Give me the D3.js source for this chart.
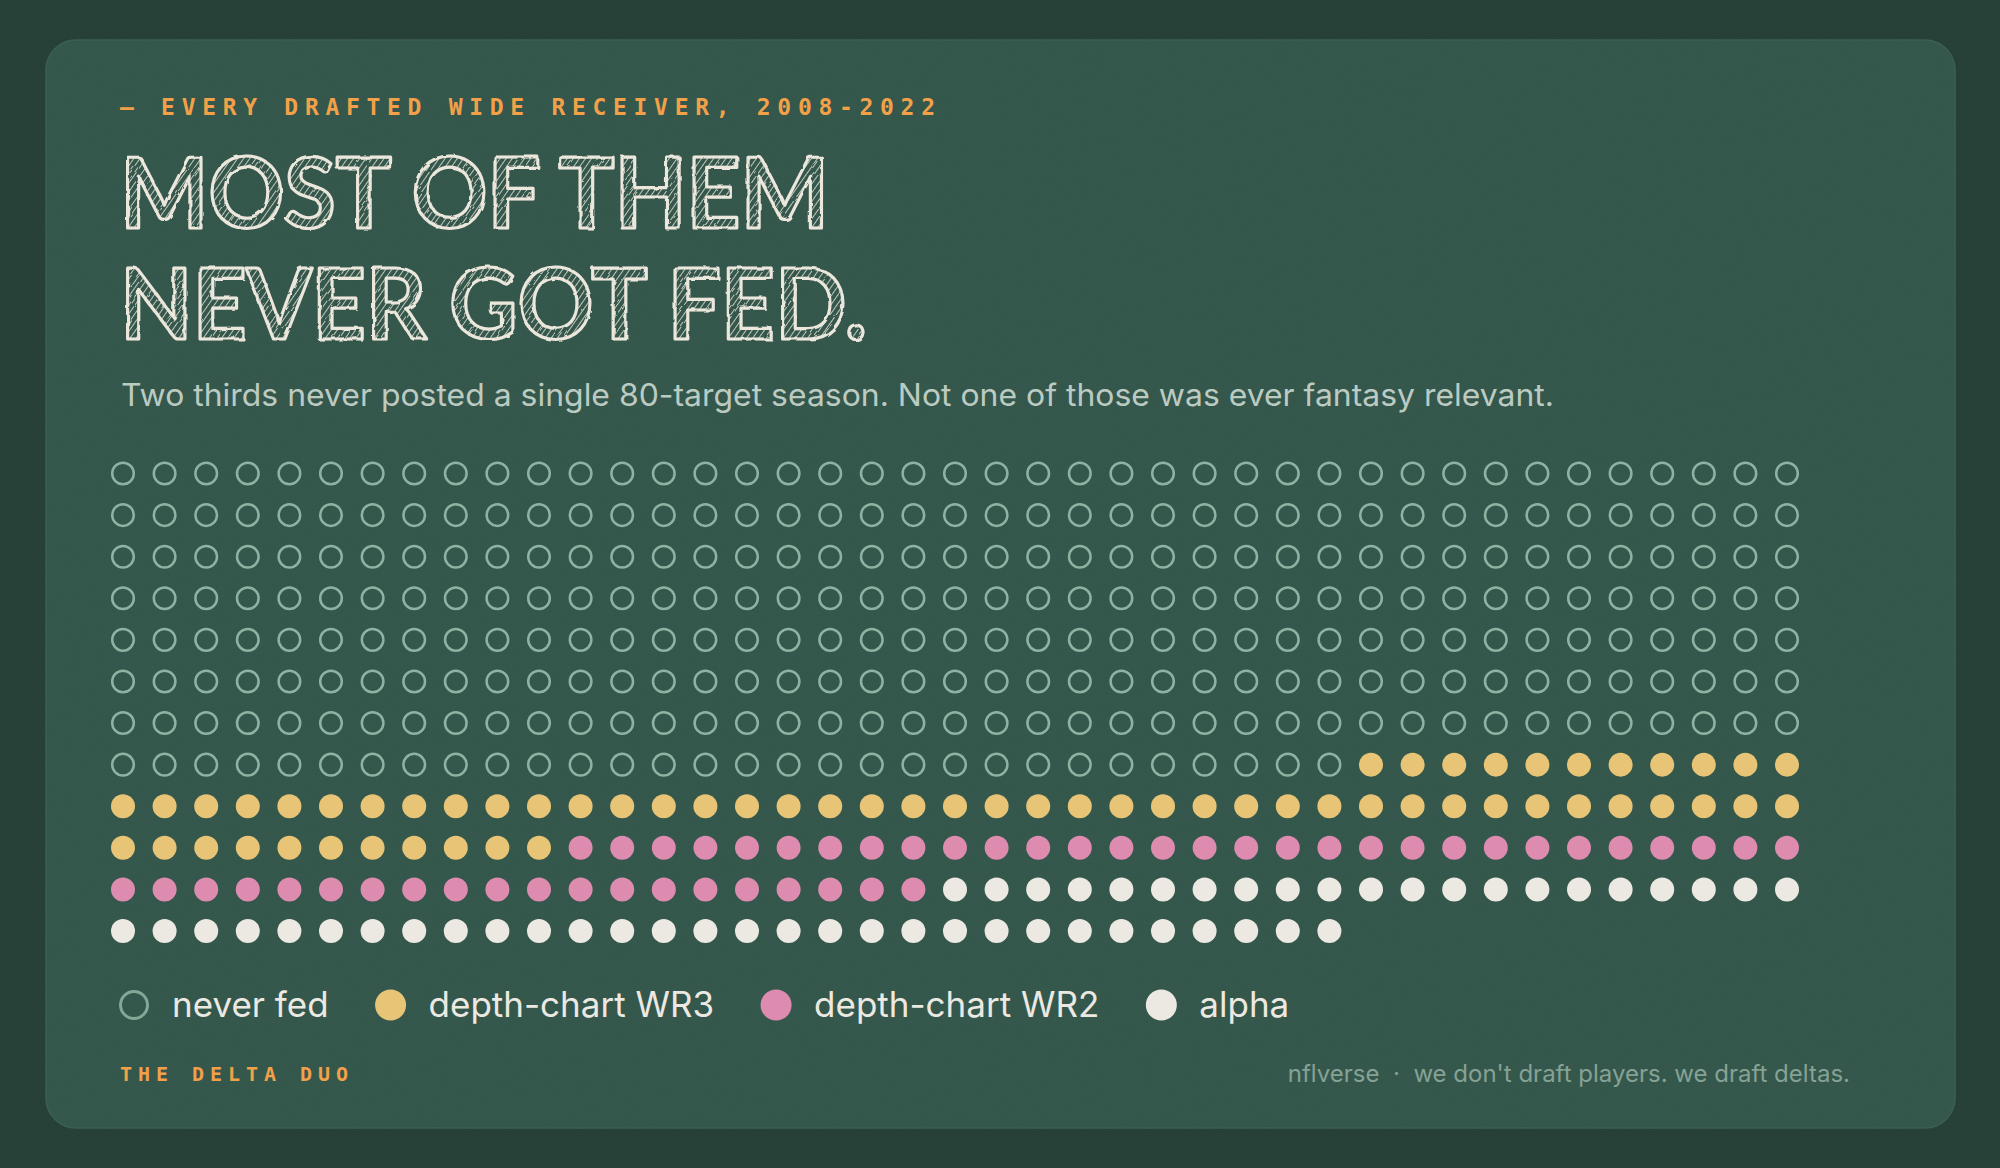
<!DOCTYPE html>
<html>
<head>
<meta charset="utf-8">
<script src="https://cdn.jsdelivr.net/npm/d3@7"></script>
<style>
  html, body { margin: 0; padding: 0; background: #243e36; }
  svg { display: block; }
</style>
</head>
<body>
<div id="chart"></div>
<script>
// data
const categories = ["never fed", "depth-chart WR3", "depth-chart WR2", "alpha"];
const counts = [317, 63, 50, 51];
const colors = ["#8db3a2", "#e8c576", "#de8bb0", "#ece9e2"];
const hollow = [true, false, false, false];
const eyebrow = "— EVERY DRAFTED WIDE RECEIVER, 2008-2022";
const titleLines = ["MOST OF THEM", "NEVER GOT FED."];
const subtitle = "Two thirds never posted a single 80-target season. Not one of those was ever fantasy relevant.";
const brand = "THE DELTA DUO";
const credit = "nflverse  ·  we don't draft players. we draft deltas.";
const perRow = 41;

const W = 2000, H = 1168;
const svg = d3.select("#chart").append("svg")
    .attr("width", W)
    .attr("height", H);

const defs = svg.append("defs");

// chalk hatching for the headline
defs.append("pattern")
    .attr("id", "hatch")
    .attr("patternUnits", "userSpaceOnUse")
    .attr("width", 5)
    .attr("height", 5)
    .attr("patternTransform", "rotate(35)")
  .append("line")
    .attr("x1", 0).attr("y1", 0)
    .attr("x2", 0).attr("y2", 5)
    .attr("stroke", "#e9e4d8")
    .attr("stroke-width", 2)
    .attr("stroke-opacity", 0.8);

const rough = defs.append("filter").attr("id", "rough");
rough.append("feTurbulence")
    .attr("type", "fractalNoise")
    .attr("baseFrequency", 0.08)
    .attr("numOctaves", 2)
    .attr("seed", 3)
    .attr("result", "n");
rough.append("feDisplacementMap")
    .attr("in", "SourceGraphic")
    .attr("in2", "n")
    .attr("scale", 3);

// faint grain on the card
const grain = defs.append("filter").attr("id", "grain");
grain.append("feTurbulence")
    .attr("type", "fractalNoise")
    .attr("baseFrequency", 0.9)
    .attr("numOctaves", 2)
    .attr("seed", 7);
grain.append("feColorMatrix")
    .attr("type", "matrix")
    .attr("values", "0 0 0 0 1  0 0 0 0 1  0 0 0 0 1  0 0 0 0.025 0");

svg.append("rect")
    .attr("width", W).attr("height", H)
    .attr("fill", "#243e36");

const card = { x: 46, y: 40, w: 1909, h: 1088 };
svg.append("rect")
    .attr("x", card.x).attr("y", card.y)
    .attr("width", card.w).attr("height", card.h)
    .attr("rx", 30)
    .attr("fill", "#32554a")
    .attr("stroke", "#3a5d50")
    .attr("stroke-width", 1.5);
svg.append("rect")
    .attr("x", card.x).attr("y", card.y)
    .attr("width", card.w).attr("height", card.h)
    .attr("rx", 30)
    .attr("filter", "url(#grain)");

// eyebrow
svg.append("text")
    .attr("x", 120).attr("y", 115)
    .attr("font-family", "'DejaVu Sans Mono', monospace")
    .attr("font-weight", "bold")
    .attr("font-size", 23)
    .attr("fill", "#f2a148")
    .attr("textLength", 815)
    .attr("lengthAdjust", "spacing")
    .text(eyebrow);

// headline
const titleG = svg.append("g").attr("filter", "url(#rough)");
const titleWidths = [709, 747];
titleG.selectAll("text")
  .data(titleLines)
  .join("text")
    .attr("x", 120)
    .attr("y", (d, i) => 228 + i * 111)
    .attr("font-family", "Lato, 'DejaVu Sans', sans-serif")
    .attr("font-weight", 700)
    .attr("font-size", 97)
    .attr("fill", "url(#hatch)")
    .attr("stroke", "#ece7dc")
    .attr("stroke-width", 3.2)
    .attr("stroke-linejoin", "round")
    .attr("textLength", (d, i) => titleWidths[i])
    .attr("lengthAdjust", "spacingAndGlyphs")
    .text(d => d);

// subtitle
svg.append("text")
    .attr("x", 121).attr("y", 406)
    .attr("font-family", "Inter, sans-serif")
    .attr("font-size", 31)
    .attr("fill", "#bccbc2")
    .attr("textLength", 1433)
    .attr("lengthAdjust", "spacingAndGlyphs")
    .text(subtitle);

// waffle
const dots = [];
categories.forEach((c, ci) => {
  for (let k = 0; k < counts[ci]; k++) dots.push({ cat: ci });
});
dots.forEach((d, i) => { d.col = i % perRow; d.row = Math.floor(i / perRow); });
const nRows = Math.ceil(dots.length / perRow);

const x = d3.scaleLinear().domain([0, perRow - 1]).range([123, 1787]);
const y = d3.scaleLinear().domain([0, nRows - 1]).range([473.5, 931]);

svg.append("g").selectAll("circle")
  .data(dots)
  .join("circle")
    .attr("cx", d => x(d.col))
    .attr("cy", d => y(d.row))
    .attr("r", d => hollow[d.cat] ? 10.8 : 12)
    .attr("fill", d => hollow[d.cat] ? "none" : colors[d.cat])
    .attr("stroke", d => hollow[d.cat] ? colors[d.cat] : "none")
    .attr("stroke-width", 2.5);

// legend
const legend = svg.append("g").attr("transform", "translate(0,1005)");
let lx = 134;
categories.forEach((c, i) => {
  legend.append("circle")
      .attr("cx", lx).attr("cy", 0)
      .attr("r", hollow[i] ? 13.5 : 15.5)
      .attr("fill", hollow[i] ? "none" : colors[i])
      .attr("stroke", hollow[i] ? "#83a898" : "none")
      .attr("stroke-width", 3);
  const t = legend.append("text")
      .attr("x", lx + 38).attr("y", 12)
      .attr("font-family", "Inter, sans-serif")
      .attr("font-size", 35)
      .attr("fill", "#ece9e2")
      .text(c);
  lx += 38 + t.node().getComputedTextLength() + 62;
});

// footer
svg.append("text")
    .attr("x", 120).attr("y", 1081)
    .attr("font-family", "'DejaVu Sans Mono', monospace")
    .attr("font-weight", "bold")
    .attr("font-size", 20)
    .attr("fill", "#f2a148")
    .attr("textLength", 228)
    .attr("lengthAdjust", "spacing")
    .text(brand);

svg.append("text")
    .attr("x", 1850).attr("y", 1082)
    .attr("text-anchor", "end")
    .attr("font-family", "Inter, sans-serif")
    .attr("font-size", 24)
    .attr("fill", "#86a295")
    .attr("xml:space", "preserve")
    .style("white-space", "pre")
    .text(credit);
</script>
</body>
</html>
